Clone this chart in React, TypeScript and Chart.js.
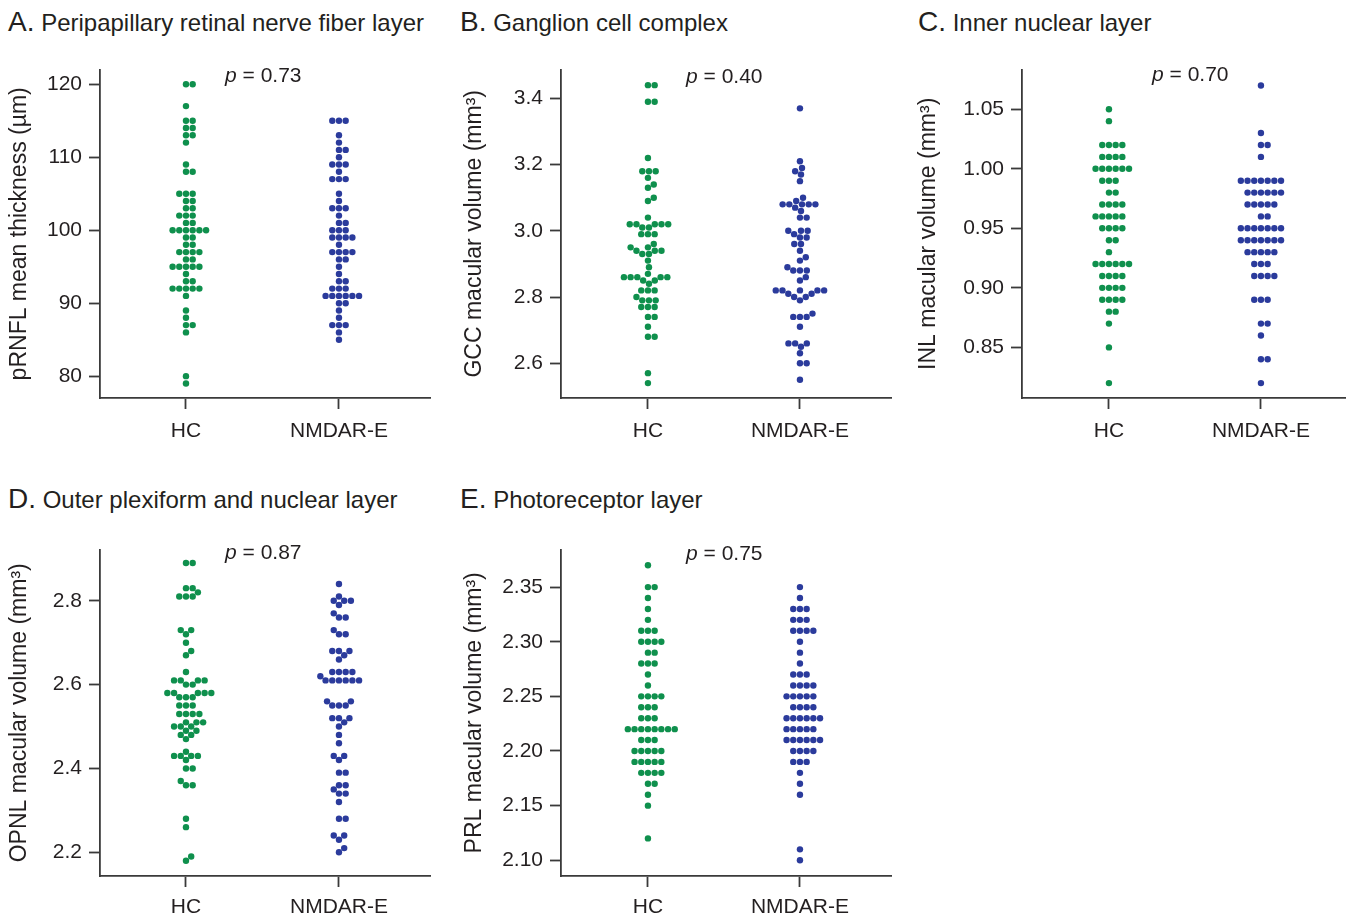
import React, { useEffect, useRef } from "react";
import { Chart, registerables } from "chart.js";

Chart.register(...registerables);

const FONT = "'Liberation Sans', Arial, Helvetica, sans-serif";
const TEXT = "#231f20";
const AXIS = "#3a3a3a";
const HC_COLOR = "#0f904d";
const NM_COLOR = "#2b3b9c";
const DOT_R = 3.2;
const DOT_GAP = 6.7;

const categories = ["HC", "NMDAR-E"];

// A. pRNFL mean thickness (µm)
const rnflHC = [120, 120, 117, 115, 115, 114, 114, 113, 113, 112, 109, 108, 108, 105, 105, 105, 104, 104, 103, 103, 102, 102, 102, 101, 101, 100, 100, 100, 100, 100, 100, 99, 99, 98, 98, 97, 97, 97, 97, 96, 96, 95, 95, 95, 95, 95, 94, 93, 93, 92, 92, 92, 92, 92, 91, 89, 88, 87, 87, 86, 80, 79];
const rnflNM = [115, 115, 115, 113, 112, 111, 111, 110, 109, 109, 109, 108, 107, 107, 107, 105, 104, 103, 103, 103, 102, 101, 101, 100, 100, 100, 99, 99, 99, 99, 98, 97, 97, 97, 97, 96, 96, 95, 94, 93, 93, 92, 92, 92, 91, 91, 91, 91, 91, 91, 90, 90, 89, 88, 87, 87, 87, 86, 85];
const rnflTicks = [80, 90, 100, 110, 120];

// B. GCC macular volume (mm³)
const gccHC = [3.44, 3.44, 3.39, 3.39, 3.22, 3.18, 3.18, 3.18, 3.16, 3.14, 3.13, 3.10, 3.09, 3.04, 3.02, 3.02, 3.02, 3.02, 3.02, 3.01, 3.01, 2.99, 2.99, 2.99, 2.96, 2.95, 2.95, 2.94, 2.94, 2.94, 2.93, 2.93, 2.91, 2.89, 2.87, 2.86, 2.86, 2.86, 2.86, 2.86, 2.85, 2.85, 2.84, 2.82, 2.82, 2.82, 2.80, 2.79, 2.79, 2.79, 2.77, 2.77, 2.77, 2.74, 2.74, 2.71, 2.68, 2.68, 2.57, 2.54];
const gccNM = [3.37, 3.21, 3.19, 3.18, 3.17, 3.15, 3.10, 3.09, 3.08, 3.08, 3.08, 3.08, 3.08, 3.07, 3.06, 3.04, 3.04, 3.00, 3.00, 3.00, 2.99, 2.98, 2.98, 2.96, 2.96, 2.94, 2.92, 2.91, 2.89, 2.88, 2.88, 2.88, 2.86, 2.85, 2.82, 2.82, 2.82, 2.82, 2.82, 2.81, 2.81, 2.80, 2.80, 2.79, 2.75, 2.74, 2.74, 2.74, 2.71, 2.66, 2.66, 2.66, 2.65, 2.63, 2.60, 2.60, 2.55];
const gccTicks = [2.6, 2.8, 3.0, 3.2, 3.4];

// C. INL macular volume (mm³)
const inlHC = [1.05, 1.04, 1.02, 1.02, 1.02, 1.02, 1.01, 1.01, 1.01, 1.01, 1.00, 1.00, 1.00, 1.00, 1.00, 1.00, 0.99, 0.99, 0.99, 0.98, 0.98, 0.97, 0.97, 0.97, 0.97, 0.96, 0.96, 0.96, 0.96, 0.96, 0.95, 0.95, 0.95, 0.95, 0.94, 0.94, 0.93, 0.92, 0.92, 0.92, 0.92, 0.92, 0.92, 0.91, 0.91, 0.91, 0.91, 0.90, 0.90, 0.90, 0.90, 0.89, 0.89, 0.89, 0.89, 0.88, 0.88, 0.87, 0.85, 0.82];
const inlNM = [1.07, 1.03, 1.02, 1.02, 1.01, 0.99, 0.99, 0.99, 0.99, 0.99, 0.99, 0.99, 0.98, 0.98, 0.98, 0.98, 0.98, 0.98, 0.97, 0.97, 0.97, 0.97, 0.97, 0.96, 0.96, 0.95, 0.95, 0.95, 0.95, 0.95, 0.95, 0.95, 0.94, 0.94, 0.94, 0.94, 0.94, 0.94, 0.94, 0.93, 0.93, 0.93, 0.93, 0.93, 0.92, 0.92, 0.92, 0.91, 0.91, 0.91, 0.91, 0.89, 0.89, 0.89, 0.87, 0.87, 0.86, 0.84, 0.84, 0.82];
const inlTicks = [0.85, 0.9, 0.95, 1.0, 1.05];

// D. OPNL macular volume (mm³)
const opnlHC = [2.89, 2.89, 2.83, 2.83, 2.82, 2.81, 2.81, 2.81, 2.73, 2.73, 2.72, 2.70, 2.68, 2.67, 2.63, 2.61, 2.61, 2.61, 2.61, 2.60, 2.60, 2.58, 2.58, 2.58, 2.58, 2.58, 2.57, 2.57, 2.57, 2.55, 2.55, 2.55, 2.53, 2.53, 2.53, 2.53, 2.51, 2.51, 2.51, 2.50, 2.50, 2.50, 2.49, 2.49, 2.48, 2.48, 2.47, 2.44, 2.43, 2.43, 2.43, 2.43, 2.42, 2.40, 2.40, 2.37, 2.36, 2.36, 2.28, 2.26, 2.19, 2.18];
const opnlNM = [2.84, 2.81, 2.80, 2.80, 2.80, 2.79, 2.77, 2.76, 2.76, 2.73, 2.72, 2.72, 2.68, 2.68, 2.68, 2.67, 2.66, 2.63, 2.63, 2.63, 2.63, 2.62, 2.61, 2.61, 2.61, 2.61, 2.61, 2.61, 2.56, 2.56, 2.55, 2.55, 2.55, 2.52, 2.52, 2.52, 2.51, 2.50, 2.48, 2.46, 2.43, 2.43, 2.42, 2.39, 2.39, 2.36, 2.36, 2.35, 2.34, 2.34, 2.32, 2.28, 2.28, 2.24, 2.24, 2.23, 2.21, 2.20];
const opnlTicks = [2.2, 2.4, 2.6, 2.8];

// E. PRL macular volume (mm³)
const prlHC = [2.37, 2.35, 2.35, 2.34, 2.33, 2.32, 2.31, 2.31, 2.31, 2.30, 2.30, 2.30, 2.30, 2.29, 2.29, 2.28, 2.28, 2.28, 2.27, 2.26, 2.25, 2.25, 2.25, 2.25, 2.24, 2.24, 2.24, 2.23, 2.23, 2.23, 2.22, 2.22, 2.22, 2.22, 2.22, 2.22, 2.22, 2.22, 2.21, 2.21, 2.21, 2.20, 2.20, 2.20, 2.20, 2.20, 2.19, 2.19, 2.19, 2.19, 2.19, 2.18, 2.18, 2.18, 2.18, 2.17, 2.17, 2.16, 2.15, 2.12];
const prlNM = [2.35, 2.34, 2.33, 2.33, 2.33, 2.32, 2.32, 2.32, 2.31, 2.31, 2.31, 2.31, 2.30, 2.29, 2.28, 2.27, 2.27, 2.27, 2.26, 2.26, 2.26, 2.26, 2.25, 2.25, 2.25, 2.25, 2.25, 2.24, 2.24, 2.24, 2.24, 2.23, 2.23, 2.23, 2.23, 2.23, 2.23, 2.22, 2.22, 2.22, 2.22, 2.22, 2.21, 2.21, 2.21, 2.21, 2.21, 2.21, 2.20, 2.20, 2.20, 2.20, 2.19, 2.19, 2.19, 2.18, 2.17, 2.16, 2.11, 2.10];
const prlTicks = [2.1, 2.15, 2.2, 2.25, 2.3, 2.35];

type PanelDef = {
  letter: string;
  title: string;
  yTitle: string;
  pText: string;
  hc: number[];
  nm: number[];
  ticks: number[];
  decimals: number;
  yMin: number;
  yMax: number;
  xMin: number;
  xMax: number;
  box: { left: number; top: number; width: number; height: number };
  pad: { left: number; top: number; right: number };
  yAxisW: number;
  xAxisH: number;
  xLabelPad: number;
  titlePos: { left: number; top: number };
  pPos: { left: number; top: number };
};

const panels: PanelDef[] = [
  {
    letter: "A.", title: "Peripapillary retinal nerve fiber layer", yTitle: "pRNFL mean thickness (µm)", pText: "0.73",
    hc: rnflHC, nm: rnflNM, ticks: rnflTicks, decimals: 0, yMin: 77.01, yMax: 122.0, xMin: -0.562, xMax: 1.595,
    box: { left: 0, top: 50, width: 450, height: 410 }, pad: { left: 6, top: 17, right: 20 }, yAxisW: 94, xAxisH: 62, xLabelPad: 10,
    titlePos: { left: 8, top: 6 }, pPos: { left: 225, top: 63 },
  },
  {
    letter: "B.", title: "Ganglion cell complex", yTitle: "GCC macular volume (mm³)", pText: "0.40",
    hc: gccHC, nm: gccNM, ticks: gccTicks, decimals: 1, yMin: 2.495, yMax: 3.487, xMin: -0.572, xMax: 1.599,
    box: { left: 455, top: 50, width: 456, height: 410 }, pad: { left: 6, top: 17, right: 20 }, yAxisW: 100, xAxisH: 62, xLabelPad: 10,
    titlePos: { left: 460, top: 6 }, pPos: { left: 686, top: 64 },
  },
  {
    letter: "C.", title: "Inner nuclear layer", yTitle: "INL macular volume (mm³)", pText: "0.70",
    hc: inlHC, nm: inlNM, ticks: inlTicks, decimals: 2, yMin: 0.8075, yMax: 1.0833, xMin: -0.572, xMax: 1.553,
    box: { left: 909, top: 50, width: 444, height: 410 }, pad: { left: 6, top: 17, right: 8 }, yAxisW: 107, xAxisH: 62, xLabelPad: 10,
    titlePos: { left: 918, top: 6 }, pPos: { left: 1152, top: 62 },
  },
  {
    letter: "D.", title: "Outer plexiform and nuclear layer", yTitle: "OPNL macular volume (mm³)", pText: "0.87",
    hc: opnlHC, nm: opnlNM, ticks: opnlTicks, decimals: 1, yMin: 2.1435, yMax: 2.922, xMin: -0.562, xMax: 1.595,
    box: { left: 0, top: 530, width: 450, height: 387 }, pad: { left: 6, top: 15, right: 20 }, yAxisW: 94, xAxisH: 41, xLabelPad: 8,
    titlePos: { left: 8, top: 483 }, pPos: { left: 225, top: 540 },
  },
  {
    letter: "E.", title: "Photoreceptor layer", yTitle: "PRL macular volume (mm³)", pText: "0.75",
    hc: prlHC, nm: prlNM, ticks: prlTicks, decimals: 2, yMin: 2.0856, yMax: 2.3843, xMin: -0.572, xMax: 1.599,
    box: { left: 455, top: 530, width: 456, height: 387 }, pad: { left: 6, top: 15, right: 20 }, yAxisW: 100, xAxisH: 41, xLabelPad: 8,
    titlePos: { left: 460, top: 483 }, pPos: { left: 686, top: 541 },
  },
];

function swarmOffsets(values: number[], toPx: (v: number) => number, d: number): number[] {
  const order = values.map((_, i) => i).sort((a, b) => values[a] - values[b]);
  const placed: { x: number; y: number }[] = [];
  const out = new Array(values.length).fill(0);
  for (const idx of order) {
    const y = toPx(values[idx]);
    const cands: number[] = [0];
    for (const p of placed) {
      const dy = Math.abs(p.y - y);
      if (dy < d) {
        const dx = Math.sqrt(d * d - dy * dy);
        cands.push(p.x + dx, p.x - dx);
      }
    }
    cands.sort((a, b) => {
      const da = Math.abs(a) - Math.abs(b);
      if (Math.abs(da) > 1e-6) return da;
      return b - a;
    });
    let chosen = 0;
    for (const c of cands) {
      let ok = true;
      for (const p of placed) {
        const dy = p.y - y;
        const dx = p.x - c;
        if (dx * dx + dy * dy < d * d - 1e-6) { ok = false; break; }
      }
      if (ok) { chosen = c; break; }
    }
    placed.push({ x: chosen, y });
    out[idx] = chosen;
  }
  return out;
}

function Panel({ def }: { def: PanelDef }) {
  const ref = useRef<HTMLCanvasElement>(null);
  useEffect(() => {
    const groups = [def.hc, def.nm];
    const colors = [HC_COLOR, NM_COLOR];
    const tickFont = { family: FONT, size: 21 };
    const chart = new Chart(ref.current as HTMLCanvasElement, {
      type: "scatter",
      data: {
        datasets: groups.map((vals, gi) => ({
          label: categories[gi],
          data: vals.map((v) => ({ x: gi, y: v })),
          backgroundColor: colors[gi],
          borderWidth: 0,
          pointRadius: DOT_R,
          pointHoverRadius: DOT_R,
        })),
      },
      options: {
        responsive: true,
        maintainAspectRatio: false,
        animation: false,
        events: [],
        layout: { padding: { left: def.pad.left, top: def.pad.top, right: def.pad.right, bottom: 0 } },
        plugins: { legend: { display: false }, tooltip: { enabled: false } },
        scales: {
          x: {
            type: "linear",
            min: def.xMin,
            max: def.xMax,
            afterBuildTicks: (s: any) => { s.ticks = categories.map((_, i) => ({ value: i })); },
            afterFit: (s: any) => { s.height = def.xAxisH; },
            ticks: {
              callback: (v: any) => categories[Math.round(Number(v))] ?? "",
              font: tickFont, color: TEXT, padding: def.xLabelPad, autoSkip: false, maxRotation: 0,
            },
            grid: { display: true, drawOnChartArea: false, drawTicks: true, tickLength: 11, tickColor: AXIS, tickWidth: 1.8 },
            border: { display: true, color: AXIS, width: 1.8 },
          },
          y: {
            type: "linear",
            min: def.yMin,
            max: def.yMax,
            afterBuildTicks: (s: any) => { s.ticks = def.ticks.map((v) => ({ value: v })); },
            afterFit: (s: any) => { s.width = def.yAxisW; },
            ticks: {
              callback: (v: any) => Number(v).toFixed(def.decimals),
              font: tickFont, color: TEXT, padding: 7,
            },
            grid: { display: true, drawOnChartArea: false, drawTicks: true, tickLength: 11, tickColor: AXIS, tickWidth: 1.8 },
            border: { display: true, color: AXIS, width: 1.8 },
            title: { display: true, text: def.yTitle, font: { family: FONT, size: 23 }, color: TEXT, padding: 0 },
          },
        },
      } as any,
    });
    const xs: any = chart.scales.x;
    const ys: any = chart.scales.y;
    const pxPerUnit = xs.getPixelForValue(1) - xs.getPixelForValue(0);
    groups.forEach((vals, gi) => {
      const offs = swarmOffsets(vals, (v) => ys.getPixelForValue(v), DOT_GAP);
      (chart.data.datasets[gi] as any).data = vals.map((v, i) => ({ x: gi + offs[i] / pxPerUnit, y: v }));
    });
    chart.update("none");
    return () => chart.destroy();
  }, [def]);

  return (
    <>
      <div style={{ position: "absolute", left: def.box.left, top: def.box.top, width: def.box.width, height: def.box.height }}>
        <canvas ref={ref} />
      </div>
      <div style={{ position: "absolute", left: def.titlePos.left, top: def.titlePos.top, fontFamily: FONT, fontSize: 24, lineHeight: "32px", color: TEXT, whiteSpace: "nowrap" }}>
        <span style={{ fontSize: 28 }}>{def.letter}</span> {def.title}
      </div>
      <div style={{ position: "absolute", left: def.pPos.left, top: def.pPos.top, fontFamily: FONT, fontSize: 21, lineHeight: "24px", color: TEXT, whiteSpace: "nowrap" }}>
        <i>p</i> = {def.pText}
      </div>
    </>
  );
}

export default function App() {
  return (
    <div style={{ position: "absolute", left: 0, top: 0, width: 1353, height: 917, overflow: "hidden", background: "#fff" }}>
      {panels.map((p) => (
        <Panel key={p.letter} def={p} />
      ))}
    </div>
  );
}
